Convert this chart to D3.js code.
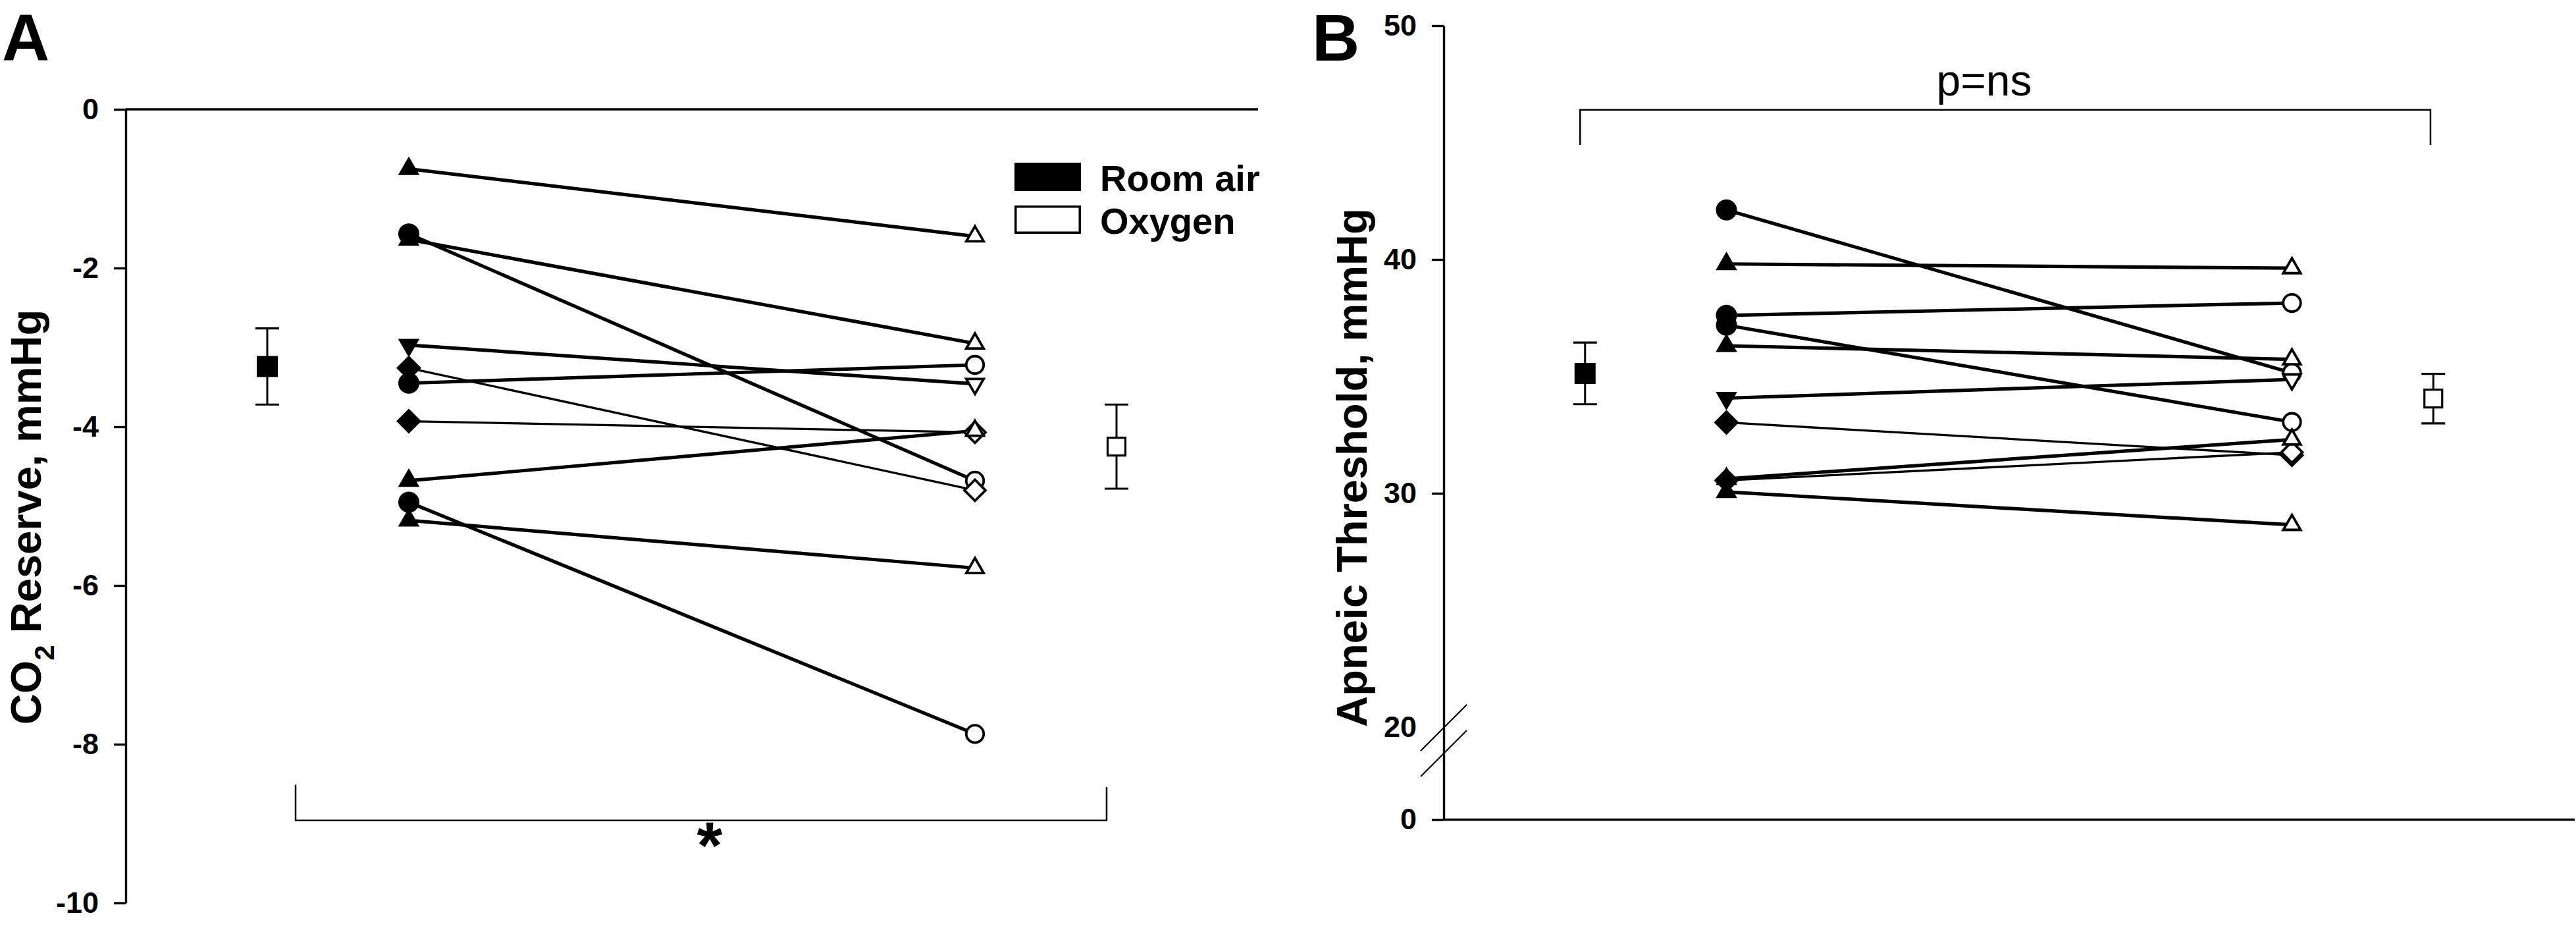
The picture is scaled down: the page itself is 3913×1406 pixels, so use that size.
<!DOCTYPE html>
<html>
<head>
<meta charset="utf-8">
<script src="https://cdn.jsdelivr.net/npm/d3@7"></script>
<style>
  body { margin: 0; background: #fff; }
  text { font-family: Arial, "Liberation Sans", sans-serif; fill: #000; }
</style>
</head>
<body>
<script>
// ---- data ----
// x positions (SigmaPlot style): 1 = room air mean, 2 = room air subjects, 6 = oxygen subjects, 7 = oxygen mean
var groups = ["Room air", "Oxygen"];
var xSubject = [2, 6];
var xMean = [1, 7];

// panel A: CO2 reserve, mmHg
var shapesA = ["triangle", "circle", "triangle", "triangleDown", "diamond", "circle", "diamond", "triangle", "circle", "triangle"];
var roomAirA = [-0.75, -1.57, -1.64, -2.97, -3.26, -3.45, -3.93, -4.68, -4.95, -5.18];
var oxygenA = [-1.60, -4.68, -2.95, -3.46, -4.80, -3.22, -4.07, -4.05, -7.87, -5.78];
var meanA = [-3.24, -4.25];
var seA = [0.48, 0.53];
var ticksA = [0, -2, -4, -6, -8, -10];

// panel B: apneic threshold, mmHg
var shapesB = ["circle", "triangle", "circle", "circle", "triangle", "triangleDown", "diamond", "diamond", "triangle", "triangle"];
var roomAirB = [42.12, 39.81, 37.61, 37.19, 36.31, 34.07, 33.03, 30.55, 30.62, 30.06];
var oxygenB = [35.15, 39.63, 38.14, 33.05, 35.73, 34.87, 31.63, 31.75, 32.30, 28.65];
var meanB = [35.13, 34.05];
var seB = [1.32, 1.06];
var ticksB = [0, 20, 30, 40, 50];

var W = 3913, H = 1406;

var svg = d3.select("body").append("svg")
    .attr("width", W)
    .attr("height", H);

// thin lines for diamonds, thicker for the rest
function lineWidth(shape) {
    return shape === "diamond" ? 3.3 : 5.2;
}

function markerPath(shape, filled) {
    if (shape === "circle") return d3.symbol(d3.symbolCircle, filled ? 804 : 551)();
    if (shape === "triangle" || shape === "triangleDown") return d3.symbol(d3.symbolTriangle, filled ? 460 : 300)();
    if (shape === "diamond") return d3.symbol(d3.symbolSquare, filled ? 722 : 512)();
    return d3.symbol(d3.symbolSquare, filled ? 1024 : 729)();
}

function markerRotate(shape) {
    if (shape === "triangleDown") return 180;
    if (shape === "diamond") return 45;
    return 0;
}

function drawPanel(g, x, y, shapes, roomAir, oxygen, means, ses) {
    var subjects = shapes.map(function(s, i) {
        return { shape: s, ra: roomAir[i], o2: oxygen[i] };
    });

    // subject lines
    g.selectAll(".subj")
        .data(subjects)
        .enter()
        .append("line")
        .attr("x1", x(xSubject[0]))
        .attr("x2", x(xSubject[1]))
        .attr("y1", d => y(d.ra))
        .attr("y2", d => y(d.o2))
        .attr("stroke", "#000")
        .attr("stroke-width", d => lineWidth(d.shape));

    // room air markers (filled)
    g.selectAll(".ra")
        .data(subjects)
        .enter()
        .append("path")
        .attr("d", d => markerPath(d.shape, true))
        .attr("transform", d => `translate(${x(xSubject[0])},${y(d.ra)}) rotate(${markerRotate(d.shape)})`)
        .attr("fill", "#000");

    // oxygen markers (open)
    g.selectAll(".o2")
        .data(subjects)
        .enter()
        .append("path")
        .attr("d", d => markerPath(d.shape, false))
        .attr("transform", d => `translate(${x(xSubject[1])},${y(d.o2)}) rotate(${markerRotate(d.shape)})`)
        .attr("fill", "#fff")
        .attr("stroke", "#000")
        .attr("stroke-width", 3.8);

    // group means with SE bars
    var m = means.map(function(v, i) {
        return { x: xMean[i], mean: v, se: ses[i], filled: i === 0 };
    });

    var mg = g.selectAll(".mean")
        .data(m)
        .enter()
        .append("g");

    mg.append("line")
        .attr("x1", d => x(d.x)).attr("x2", d => x(d.x))
        .attr("y1", d => y(d.mean + d.se)).attr("y2", d => y(d.mean - d.se))
        .attr("stroke", "#000").attr("stroke-width", 3);

    [1, -1].forEach(function(sgn) {
        mg.append("line")
            .attr("x1", d => x(d.x) - 18).attr("x2", d => x(d.x) + 18)
            .attr("y1", d => y(d.mean + sgn * d.se)).attr("y2", d => y(d.mean + sgn * d.se))
            .attr("stroke", "#000").attr("stroke-width", 3.2);
    });

    mg.append("path")
        .attr("d", d => markerPath("square", d.filled))
        .attr("transform", d => `translate(${x(d.x)},${y(d.mean)})`)
        .attr("fill", d => d.filled ? "#000" : "#fff")
        .attr("stroke", d => d.filled ? "none" : "#000")
        .attr("stroke-width", 3.2);
}

function styleAxis(ax) {
    ax.select(".domain").attr("stroke", "#000").attr("stroke-width", 3.4);
    ax.selectAll(".tick line").attr("stroke", "#000").attr("stroke-width", 3.4);
    ax.selectAll(".tick text")
        .attr("font-size", 45)
        .attr("font-weight", "bold")
        .attr("font-family", "Arial, 'Liberation Sans', sans-serif")
        .attr("fill", "#000");
}

// ================= Panel A =================
var xA = d3.scaleLinear().domain([0, 8]).range([191, 1911]);
var yA = d3.scaleLinear().domain([-10, 0]).range([1371, 166]);

var gA = svg.append("g");

var axA = gA.append("g")
    .attr("transform", `translate(${xA(0)},0)`)
    .call(d3.axisLeft(yA)
        .tickValues(ticksA)
        .tickSize(18)
        .tickPadding(23)
        .tickSizeOuter(0)
        .tickFormat(d => String(d)));
styleAxis(axA);

// x axis sits at y = 0 (top)
gA.append("line")
    .attr("x1", xA(0)).attr("x2", xA(8))
    .attr("y1", yA(0)).attr("y2", yA(0))
    .attr("stroke", "#000").attr("stroke-width", 3.4);

drawPanel(gA, xA, yA, shapesA, roomAirA, oxygenA, meanA, seA);

// significance bracket
gA.append("path")
    .attr("d", `M${xA(1.2)},${yA(-8.51)}V${yA(-8.96)}H${xA(6.93)}V${yA(-8.54)}`)
    .attr("fill", "none").attr("stroke", "#000").attr("stroke-width", 2.5);

gA.append("text")
    .attr("x", (xA(1.2) + xA(6.93)) / 2 + 13)
    .attr("y", yA(-8.96) + 72)
    .attr("text-anchor", "middle")
    .attr("font-size", 100)
    .attr("font-weight", "bold")
    .text("*");

// legend
var legend = gA.append("g").attr("transform", "translate(1541,247)");
groups.forEach(function(name, i) {
    legend.append("rect")
        .attr("x", i === 0 ? 0 : 1.75)
        .attr("y", i * 65 + (i === 0 ? 0 : 1.75))
        .attr("width", i === 0 ? 101 : 97.5)
        .attr("height", i === 0 ? 43 : 39.5)
        .attr("fill", i === 0 ? "#000" : "#fff")
        .attr("stroke", i === 0 ? "none" : "#000")
        .attr("stroke-width", 3.5);
    legend.append("text")
        .attr("x", 130)
        .attr("y", i * 65 + 43)
        .attr("font-size", 56)
        .attr("font-weight", "bold")
        .text(name);
});

// y label
var labA = gA.append("text")
    .attr("transform", "translate(62,785) rotate(-90)")
    .attr("text-anchor", "middle")
    .attr("font-size", 65)
    .attr("font-weight", "bold");
labA.append("tspan").text("CO");
labA.append("tspan").attr("font-size", 42).attr("dy", 20).text("2");
labA.append("tspan").attr("dy", -20).text(" Reserve, mmHg");

svg.append("text")
    .attr("x", 3).attr("y", 92)
    .attr("font-size", 100)
    .attr("font-weight", "bold")
    .text("A");

// ================= Panel B =================
var xB = d3.scaleLinear().domain([0, 8]).range([2193, 3911]);
var yB = d3.scaleLinear().domain([0, 20, 50]).range([1244.5, 1104, 39]);

var gB = svg.append("g");

var axB = gB.append("g")
    .attr("transform", `translate(${xB(0)},0)`)
    .call(d3.axisLeft(yB)
        .tickValues(ticksB)
        .tickSize(18)
        .tickPadding(23)
        .tickSizeOuter(0)
        .tickFormat(d => String(d)));
styleAxis(axB);
// the 20 label sits at the axis break, no tick mark
axB.selectAll(".tick").filter(d => d === 20).select("line").remove();

gB.append("line")
    .attr("x1", xB(0)).attr("x2", xB(8))
    .attr("y1", yB(0)).attr("y2", yB(0))
    .attr("stroke", "#000").attr("stroke-width", 3.4);

// axis break marks
[yB(20) + 1, yB(20) + 40].forEach(function(cy) {
    gB.append("line")
        .attr("x1", xB(0) - 35).attr("x2", xB(0) + 35)
        .attr("y1", cy + 35).attr("y2", cy - 35)
        .attr("stroke", "#000").attr("stroke-width", 2.2);
});

drawPanel(gB, xB, yB, shapesB, roomAirB, oxygenB, meanB, seB);

// bracket
gB.append("path")
    .attr("d", `M${xB(0.965)},${yB(44.9)}V${yB(46.4)}H${xB(6.98)}V${yB(44.9)}`)
    .attr("fill", "none").attr("stroke", "#000").attr("stroke-width", 2.5);

gB.append("text")
    .attr("x", 3014)
    .attr("y", yB(46.4) - 22)
    .attr("text-anchor", "middle")
    .attr("font-size", 66)
    .text("p=ns");

gB.append("text")
    .attr("transform", "translate(2076,710) rotate(-90)")
    .attr("text-anchor", "middle")
    .attr("font-size", 65)
    .attr("font-weight", "bold")
    .text("Apneic Threshold, mmHg");

svg.append("text")
    .attr("x", 1993).attr("y", 92)
    .attr("font-size", 100)
    .attr("font-weight", "bold")
    .text("B");
</script>
</body>
</html>
